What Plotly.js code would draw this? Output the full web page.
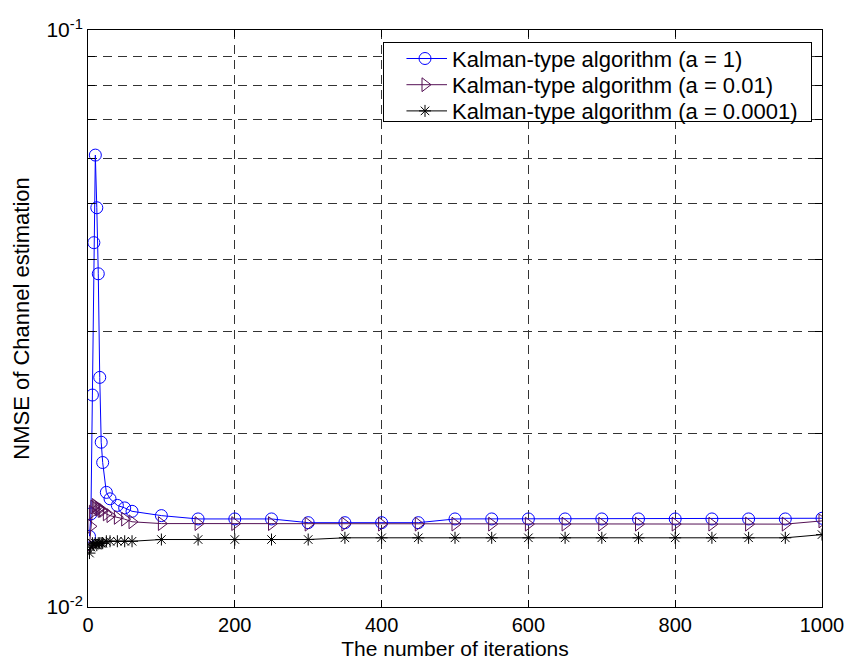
<!DOCTYPE html>
<html>
<head>
<meta charset="utf-8">
<script src="https://cdn.plot.ly/plotly-3.0.1.min.js"></script>
<style>html,body{margin:0;padding:0;background:#fff;}#chart{width:847px;height:668px;}</style>
</head>
<body>
<div id="chart"></div>
<script>
const iterations = [2,4,6,8,10,12,14,16,18,20,25,30,40,50,60,100,150,200,250,300,350,400,450,500,550,600,650,700,750,800,850,900,950,1000];
const nmseA1 = [0.01326,0.0145,0.0233,0.0428,0.0607,0.0492,0.0378,0.0250,0.0193,0.0178,0.0158,0.0154,0.0150,0.01485,0.01465,0.0144,0.01421,0.01421,0.01421,0.0140,0.0140,0.0140,0.0140,0.01421,0.01421,0.01421,0.01421,0.01421,0.01421,0.01421,0.01421,0.01421,0.01421,0.01425];
const nmseA001 = [0.0128,0.0138,0.0146,0.0149,0.0150,0.0149,0.0148,0.0148,0.0147,0.0147,0.0145,0.0144,0.0143,0.0142,0.01405,0.01395,0.01395,0.01395,0.01395,0.01392,0.01392,0.01392,0.01392,0.01392,0.01392,0.01392,0.01392,0.01392,0.01392,0.01392,0.01392,0.01392,0.01392,0.0141];
const nmseA00001 = [0.0124,0.0127,0.0129,0.0128,0.0129,0.0128,0.0129,0.0129,0.0129,0.0129,0.0130,0.0130,0.0130,0.0130,0.0130,0.01309,0.01309,0.01309,0.01309,0.01309,0.01318,0.01318,0.01318,0.01318,0.01318,0.01318,0.01318,0.01318,0.01318,0.01318,0.01318,0.01318,0.01318,0.01335];
const seriesNames = ['Kalman-type algorithm (a = 1)','Kalman-type algorithm (a = 0.01)','Kalman-type algorithm (a = 0.0001)'];
const xTickVals = [0,200,400,600,800,1000];
const xTickText = ['0','200','400','600','800','1000'];
const yTickVals = [0.01,0.02,0.03,0.04,0.05,0.06,0.07,0.08,0.09,0.1];
const yTickText = ['10<sup>-2</sup>','','','','','','','','','10<sup>-1</sup>'];

const FONT = 'Liberation Sans, Arial, sans-serif';
const traces = [
  {x: iterations, y: nmseA1, name: seriesNames[0], type: 'scatter', mode: 'lines+markers',
   line: {color: '#0000ff', width: 1}, marker: {symbol: 'circle-open', size: 12, color: '#0000ff', line: {width: 1}}},
  {x: iterations, y: nmseA001, name: seriesNames[1], type: 'scatter', mode: 'lines+markers',
   line: {color: '#551155', width: 1}, marker: {symbol: 'triangle-right-open', size: 12, color: '#551155', line: {width: 1}}},
  {x: iterations, y: nmseA00001, name: seriesNames[2], type: 'scatter', mode: 'lines+markers',
   line: {color: '#000000', width: 1}, marker: {symbol: 'asterisk-open', size: 10, color: '#000000', line: {width: 1}}}
];
const layout = {
  width: 847, height: 668,
  margin: {l: 88, r: 25, t: 30, b: 61},
  paper_bgcolor: '#ffffff', plot_bgcolor: '#ffffff',
  font: {family: FONT, size: 20, color: '#000'},
  showlegend: true,
  legend: {x: 0.987, xanchor: 'right', y: 0.979, yanchor: 'top', bgcolor: '#ffffff',
           bordercolor: '#000', borderwidth: 1, itemwidth: 44,
           font: {family: FONT, size: 22, color: '#000'}, tracegroupgap: 0},
  xaxis: {
    range: [0, 1000], tickvals: xTickVals, ticktext: xTickText,
    tickfont: {family: FONT, size: 20},
    showgrid: true, gridcolor: '#333', griddash: '9px,6px', gridwidth: 1,
    zeroline: false, showline: true, linecolor: '#000', linewidth: 1, mirror: 'allticks',
    ticks: 'inside', ticklen: 7, tickcolor: '#000',
    title: {text: 'The number of iterations', font: {family: FONT, size: 21}, standoff: 6}
  },
  yaxis: {
    type: 'log', range: [-2, -1], tickvals: yTickVals, ticktext: yTickText,
    tickfont: {family: FONT, size: 21},
    showgrid: true, gridcolor: '#333', griddash: '9px,6px', gridwidth: 1,
    zeroline: false, showline: true, linecolor: '#000', linewidth: 1, mirror: 'allticks',
    ticks: 'inside', ticklen: 7, tickcolor: '#000',
    title: {text: 'NMSE of Channel estimation', font: {family: FONT, size: 22}, standoff: 10}
  }
};

// Legend box geometry (page pixels) to match the reference legend frame
const legendBox = {left: 383, right: 812, top: 42, bottom: 122, textLeft: 452, firstRow: 58.5, rowStep: 26.2};

function parseT(el) {
  const m = /translate\(\s*([-\d.eE]+)[\s,]+([-\d.eE]+)\s*\)/.exec(el.getAttribute('transform') || '');
  return m ? [parseFloat(m[1]), parseFloat(m[2])] : [0, 0];
}

const gd = document.getElementById('chart');
Plotly.newPlot(gd, traces, layout, {displayModeBar: false, staticPlot: true}).then(function () {
  try {
    const leg = gd.querySelector('g.legend');
    if (!leg) return;
    const [lx, ly] = parseT(leg);
    const items = Array.from(leg.querySelectorAll('g.traces'));
    items.forEach(function (el, i) {
      const [tx, ty] = parseT(el);
      const txt = el.querySelector('text.legendtext');
      const pts = el.querySelector('.legendpoints path') || el.querySelector('.legendlines path');
      let dx = 0, dy = 0;
      if (txt) dx = legendBox.textLeft - txt.getBoundingClientRect().left;
      if (pts) {
        const r = pts.getBoundingClientRect();
        dy = (legendBox.firstRow + i * legendBox.rowStep) - (r.top + r.height / 2);
      }
      el.setAttribute('transform', 'translate(' + (tx + dx) + ',' + (ty + dy) + ')');
    });
    const bg = leg.querySelector('rect.bg');
    if (bg) {
      const bw = parseFloat(bg.getAttribute('stroke-width') || bg.style.strokeWidth || 1) || 1;
      bg.setAttribute('x', legendBox.left - lx + bw / 2);
      bg.setAttribute('y', legendBox.top - ly + bw / 2);
      bg.setAttribute('width', legendBox.right - legendBox.left - bw);
      bg.setAttribute('height', legendBox.bottom - legendBox.top - bw);
    }
    leg.querySelectorAll('clipPath rect, defs rect').forEach(function (r) {
      r.setAttribute('x', legendBox.left - lx - 2);
      r.setAttribute('y', legendBox.top - ly - 2);
      r.setAttribute('width', legendBox.right - legendBox.left + 4);
      r.setAttribute('height', legendBox.bottom - legendBox.top + 4);
    });
  } catch (e) { /* keep default legend */ }
});
</script>
</body>
</html>
